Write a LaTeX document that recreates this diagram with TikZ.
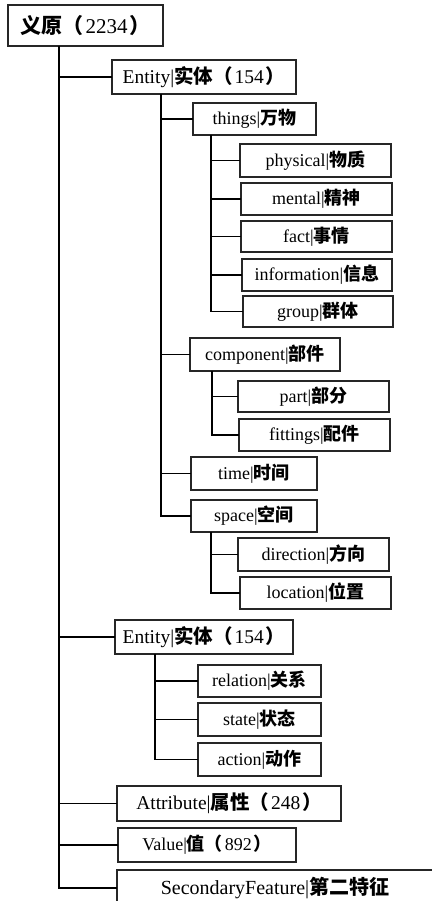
\documentclass[tikz,border=0pt]{standalone}
\usepackage{fontspec}
\setmainfont{Liberation Serif}
\newfontfamily\cjk{Noto Sans CJK SC}
\newcommand\zh[1]{{\cjk\bfseries #1}}
% a count in full-width brackets, with a little air inside the brackets
\newcommand\cnt[1]{\zh{（}\hspace{0.1em}#1\hspace{0.1em}\zh{）}}
\begin{document}
\begin{tikzpicture}[x=1pt,y=1pt,
  box/.style={draw=black!85,line width=1.5pt,inner sep=0pt,outer sep=0pt,
    font=\fontsize{18}{20}\selectfont,anchor=center},
  link/.style={draw=black,line width=1.8pt}]
\useasboundingbox (0,0) rectangle (431,-901);

% nodes: centre, width, height
\node[box,minimum width=155,minimum height=41,font=\fontsize{21}{24}\selectfont] (root) at (85.5,-25.5) {\zh{义原}\cnt{2234}};
\node[box,minimum width=184,minimum height=34,font=\fontsize{19.5}{22}\selectfont] (ent1) at (204,-77) {Entity|\zh{实体}\cnt{154}};
\node[box,minimum width=123,minimum height=32] (things) at (254.5,-119) {things|\zh{万物}};
\node[box,minimum width=151,minimum height=33] (phys) at (315.5,-160.5) {physical|\zh{物质}};
\node[box,minimum width=151,minimum height=32] (ment) at (316.5,-199) {mental|\zh{精神}};
\node[box,minimum width=151,minimum height=31] (fact) at (316.5,-236.5) {fact|\zh{事情}};
\node[box,minimum width=150,minimum height=32] (info) at (317,-275) {information|\zh{信息}};
\node[box,minimum width=150,minimum height=31] (group) at (318,-311.5) {group|\zh{群体}};
\node[box,minimum width=150,minimum height=33] (comp) at (265,-354.5) {component|\zh{部件}};
\node[box,minimum width=151,minimum height=31] (part) at (313.5,-396.5) {part|\zh{部分}};
\node[box,minimum width=151,minimum height=32] (fitt) at (314.5,-435) {fittings|\zh{配件}};
\node[box,minimum width=126,minimum height=33] (time) at (254,-473.5) {time|\zh{时间}};
\node[box,minimum width=126,minimum height=32] (space) at (254,-516) {space|\zh{空间}};
\node[box,minimum width=151,minimum height=33] (dir) at (313.5,-554.5) {direction|\zh{方向}};
\node[box,minimum width=151,minimum height=32] (loc) at (315.5,-593) {location|\zh{位置}};
\node[box,minimum width=178,minimum height=34,font=\fontsize{19.5}{22}\selectfont] (ent2) at (204,-637) {Entity|\zh{实体}\cnt{154}};
\node[box,minimum width=123,minimum height=32] (rel) at (259.5,-681) {relation|\zh{关系}};
\node[box,minimum width=123,minimum height=33] (state) at (259.5,-719.5) {state|\zh{状态}};
\node[box,minimum width=123,minimum height=33] (act) at (259.5,-759.5) {action|\zh{动作}};
\node[box,minimum width=224,minimum height=35,font=\fontsize{19.5}{22}\selectfont] (attr) at (229,-803.5) {Attribute|\zh{属性}\cnt{248}};
\node[box,minimum width=178,minimum height=34] (val) at (207,-845) {Value|\zh{值}\cnt{892}};
\node[box,minimum width=316,minimum height=36,font=\fontsize{20}{22}\selectfont] (sf) at (275,-888) {SecondaryFeature|\zh{第二特征}};

% trunk positions
\coordinate (t0) at (59,0);
\coordinate (t1) at (161,0);
\coordinate (t2) at (211,0);
\coordinate (t3) at (212,0);
\coordinate (t4) at (211,0);
\coordinate (t5) at (155,0);

% root level
\draw[link] (root.south -| t0) |- (sf.west);
\foreach \c in {ent1,ent2,attr,val} \draw[link] (t0 |- \c.west) -- (\c.west);
% first Entity
\draw[link] (ent1.south -| t1) |- (space.west);
\foreach \c in {things,comp,time} \draw[link] (t1 |- \c.west) -- (\c.west);
% things
\draw[link] (things.south -| t2) |- (group.west);
\foreach \c in {phys,ment,fact,info} \draw[link] (t2 |- \c.west) -- (\c.west);
% component
\draw[link] (comp.south -| t3) |- (fitt.west);
\draw[link] (t3 |- part.west) -- (part.west);
% space
\draw[link] (space.south -| t4) |- (loc.west);
\draw[link] (t4 |- dir.west) -- (dir.west);
% second Entity
\draw[link] (ent2.south -| t5) |- (act.west);
\foreach \c in {rel,state} \draw[link] (t5 |- \c.west) -- (\c.west);
\end{tikzpicture}
\end{document}
